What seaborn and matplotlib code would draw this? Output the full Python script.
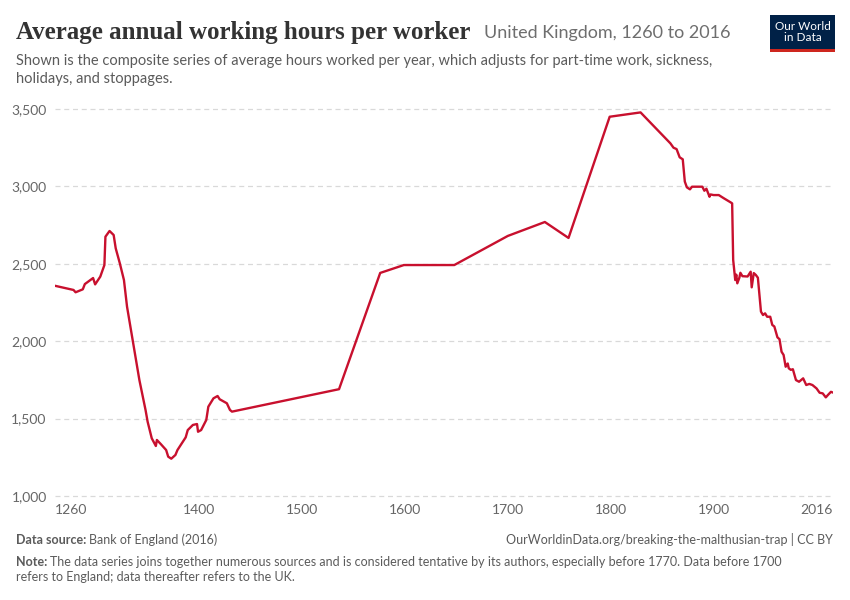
import pandas as pd
import numpy as np
import seaborn as sns
import matplotlib.pyplot as plt
from matplotlib.patches import Rectangle

# data
years = [1260, 1278, 1280, 1287, 1289, 1297, 1299, 1304, 1308, 1309, 1313, 1317,
         1319, 1323, 1327, 1330, 1336, 1342, 1348, 1350, 1354, 1358, 1359, 1363,
         1368, 1370, 1373, 1377, 1379, 1387, 1389, 1394, 1398, 1399, 1402, 1407,
         1409, 1414, 1418, 1420, 1427, 1430, 1432, 1536, 1576, 1599, 1648, 1700,
         1736, 1759, 1799, 1829, 1858, 1861, 1864, 1867, 1870, 1872, 1874, 1877,
         1879, 1889, 1891, 1893, 1896, 1897, 1900, 1905, 1910, 1917, 1918, 1919,
         1921, 1922, 1923, 1925, 1926, 1928, 1933, 1936, 1937, 1939, 1941, 1943,
         1946, 1948, 1950, 1952, 1955, 1957, 1959, 1962, 1964, 1966, 1968, 1970,
         1972, 1973, 1975, 1977, 1980, 1983, 1985, 1987, 1990, 1993, 1996, 2000,
         2003, 2006, 2009, 2011, 2014, 2016]
hours = [2358, 2331, 2316, 2335, 2369, 2408, 2367, 2417, 2492, 2675, 2712, 2686,
         2600, 2503, 2395, 2223, 1986, 1749, 1555, 1480, 1373, 1323, 1362, 1334,
         1297, 1254, 1241, 1265, 1297, 1379, 1426, 1459, 1465, 1415, 1426, 1491,
         1577, 1631, 1646, 1625, 1599, 1556, 1545, 1690, 2441, 2492, 2492, 2680,
         2770, 2667, 3450, 3478, 3278, 3250, 3241, 3188, 3175, 3031, 2994, 2981,
         2998, 2998, 2972, 2985, 2933, 2948, 2944, 2944, 2923, 2895, 2890, 2525,
         2395, 2430, 2374, 2410, 2442, 2420, 2418, 2449, 2348, 2440, 2428, 2410,
         2191, 2169, 2180, 2158, 2158, 2105, 2095, 2025, 2013, 1932, 1911, 1835,
         1856, 1825, 1815, 1819, 1749, 1738, 1749, 1760, 1717, 1724, 1717, 1695,
         1667, 1663, 1637, 1652, 1673, 1668]

x_ticks = [1260, 1400, 1500, 1600, 1700, 1800, 1900, 2016]
y_ticks = [1000, 1500, 2000, 2500, 3000, 3500]

df = pd.DataFrame({"year": years, "hours": hours})

sns.set_theme(style="white")
plt.rcParams['font.family'] = ['Lato', 'DejaVu Sans']

fig = plt.figure(figsize=(8.5, 6), dpi=100)
ax = fig.add_axes([55 / 850, 1 - 496 / 600, (833 - 55) / 850, (496 - 109) / 600])

sns.lineplot(data=df, x="year", y="hours", color="#c8102e", linewidth=1.7, ax=ax)

ax.set_xlim(1260, 2016)
ax.set_ylim(1000, 3500)
ax.set_xlabel("")
ax.set_ylabel("")

for s in ax.spines.values():
    s.set_visible(False)

# dashed gridlines
for v in y_ticks:
    ax.axhline(v, color="#d9d9d9", linestyle=(0, (4, 3)), linewidth=0.9, zorder=0,
               clip_on=False)

ax.set_yticks(y_ticks)
ax.set_yticklabels([f"{v:,}" for v in y_ticks])
ax.tick_params(axis="y", length=0, pad=6, labelsize=10, labelcolor="#666666")

ax.set_xticks(x_ticks)
ax.set_xticklabels([str(t) for t in x_ticks])
ax.tick_params(axis="x", length=4, width=0.8, color="#999999", pad=2,
               labelsize=10, labelcolor="#666666", direction="out")
labels = ax.get_xticklabels()
labels[0].set_ha("left")
labels[-1].set_ha("right")

# header
fig.text(16 / 850, 1 - 32 / 600, "Average annual working hours per worker",
         family=["Liberation Serif"], fontsize=18, weight="bold",
         color="#333333", va="center")
fig.text(484 / 850, 1 - 33 / 600, "United Kingdom, 1260 to 2016",
         fontsize=13, color="#6e6e6e", va="center")
fig.text(16 / 850, 1 - 61 / 600,
         "Shown is the composite series of average hours worked per year, which adjusts for part-time work, sickness,",
         fontsize=10.5, color="#5b5b5b", va="center")
fig.text(16 / 850, 1 - 79 / 600, "holidays, and stoppages.",
         fontsize=10.5, color="#5b5b5b", va="center")

# logo
fig.patches.append(Rectangle((770 / 850, 1 - 49 / 600), 65 / 850, 34 / 600,
                             transform=fig.transFigure, facecolor="#002147",
                             edgecolor="none"))
fig.patches.append(Rectangle((770 / 850, 1 - 52 / 600), 65 / 850, 3 / 600,
                             transform=fig.transFigure, facecolor="#ce261e",
                             edgecolor="none"))
fig.text(802.5 / 850, 1 - 32 / 600, "Our World\nin Data", color="white",
         fontsize=8.5, ha="center", va="center", linespacing=1.0)

# footer
def two_part(x, y, bold, rest, size):
    t = fig.text(x, y, bold, fontsize=size, color="#5b5b5b", weight="bold", va="center")
    fig.canvas.draw()
    w = t.get_window_extent(renderer=fig.canvas.get_renderer()).width
    fig.text(x + (w + 3) / 850, y, rest, fontsize=size, color="#5b5b5b", va="center")

two_part(16 / 850, 1 - 540 / 600, "Data source:", "Bank of England (2016)", 9)
fig.text(833 / 850, 1 - 540 / 600,
         "OurWorldinData.org/breaking-the-malthusian-trap | CC BY",
         fontsize=9, color="#5b5b5b", ha="right", va="center")
two_part(16 / 850, 1 - 562 / 600, "Note:",
         "The data series joins together numerous sources and is considered tentative by its authors, especially before 1770. Data before 1700",
         9)
fig.text(16 / 850, 1 - 577 / 600,
         "refers to England; data thereafter refers to the UK.",
         fontsize=9, color="#5b5b5b", va="center")

fig.savefig("out.png", dpi=100)
